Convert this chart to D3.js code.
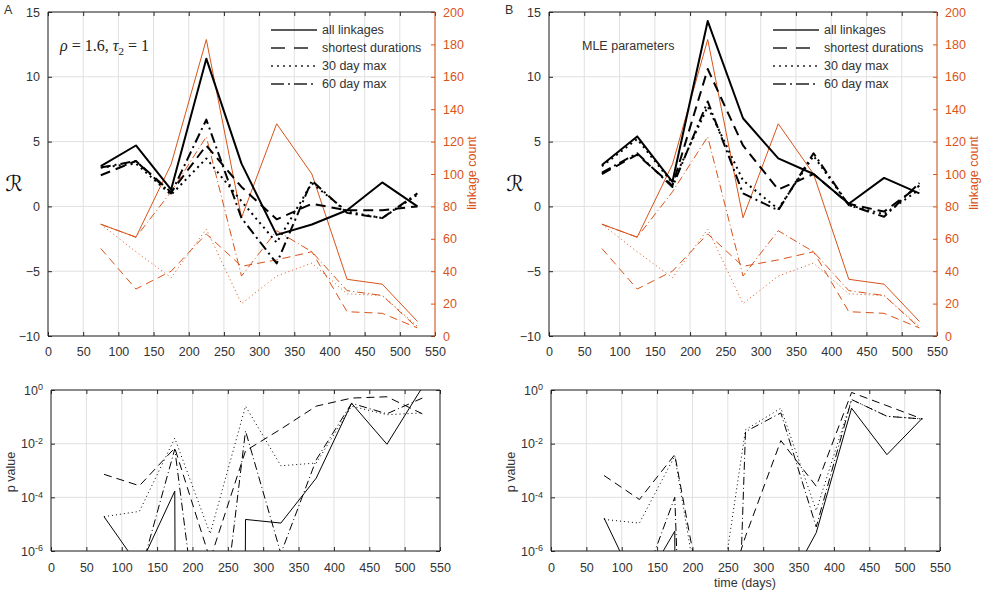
<!DOCTYPE html>
<html>
<head>
<meta charset="utf-8">
<script src="https://cdn.jsdelivr.net/npm/d3@7"></script>
<style>
  body { margin: 0; background: #fff; }
  svg { display: block; font-family: "Liberation Sans", Arial, sans-serif; }
  .tick text { font-family: "Liberation Sans", Arial, sans-serif; font-size: 12.5px; }
</style>
</head>
<body>
<svg id="chart" width="990" height="600"></svg>
<script>

// ---- data ----
const days = [75, 125, 175, 225, 275, 325, 375, 425, 475, 525];
const xTicks = [0, 50, 100, 150, 200, 250, 300, 350, 400, 450, 500, 550];
const rTicks = [-10, -5, 0, 5, 10, 15];
const countTicks = [0, 20, 40, 60, 80, 100, 120, 140, 160, 180, 200];
const pTicks = [1e-6, 1e-4, 1e-2, 1];
const seriesNames = ["all linkages", "shortest durations", "30 day max", "60 day max"];

// R, rho = 1.6, tau2 = 1 (panel A)
const rA_all   = [3.1, 4.7, 1.3, 11.4, 3.3, -2.2, -1.4, -0.3, 1.85, 0.0];
const rA_short = [2.4, 3.5, 1.1, 4.7, 1.5, -1.0, 0.2, -0.3, -0.3, 0.0];
const rA_30    = [3.0, 3.3, 0.9, 3.7, 0.4, -2.8, 1.8, -0.4, -0.9, 0.9];
const rA_60    = [3.0, 3.5, 1.0, 6.7, -0.9, -4.4, 2.0, -0.5, -0.9, 1.0];

// R, MLE parameters (panel B)
const rB_all   = [3.2, 5.4, 1.9, 14.3, 6.8, 3.7, 2.5, 0.2, 2.2, 1.0];
const rB_short = [2.5, 4.0, 1.6, 10.6, 4.7, 1.3, 2.5, 0.2, -0.4, 1.6];
const rB_30    = [3.1, 5.2, 1.8, 7.7, 2.0, -0.2, 3.9, 0.1, -0.6, 1.3];
const rB_60    = [2.6, 4.1, 1.5, 8.1, 1.0, -0.3, 4.1, 0.1, -0.8, 1.8];

// linkage counts (right axis, both panels)
const cnt_all   = [69, 61, 106, 183, 73, 131, 100, 35, 32, 9];
const cnt_short = [54, 29, 40, 63, 43, 47, 52, 15, 14, 5];
const cnt_30    = [69, 52, 36, 66, 20, 37, 45, 26, 25, 6];
const cnt_60    = [69, 61, 89, 123, 37, 65, 52, 28, 25, 5];

// p values (panel A)
const pA_all   = [1.9e-5, 2.5e-7, 1.7e-4, 1e-300, 1.5e-5, 1.1e-5, 5.2e-4, 0.32, 9.5e-3, 1.26];
const pA_short = [7.2e-4, 2.7e-4, 6.9e-3, 4.8e-7, 5.4e-3, 3.5e-2, 0.25, 0.50, 0.56, 0.13];
const pA_30    = [1.9e-5, 3.0e-5, 1.6e-2, 4.4e-6, 0.25, 1.5e-3, 1.9e-3, 0.25, 0.12, 0.14];
const pA_60    = [3e-8, 1.1e-7, 6.3e-3, 3e-13, 3.0e-2, 8e-7, 2.5e-3, 0.32, 0.13, 0.5];

// p values (panel B)
const pB_all   = [1.7e-5, 3e-8, 5.5e-6, 1e-300, 1e-50, 1.8e-8, 4.8e-6, 0.21, 3.9e-3, 0.089];
const pB_short = [6.5e-4, 8.3e-5, 3.9e-3, 3.2e-10, 3.5e-6, 1.3e-2, 2.6e-4, 0.81, 0.26, 0.083];
const pB_30    = [1.5e-5, 1.1e-5, 3.5e-3, 5e-11, 3.3e-2, 0.21, 3.2e-5, 0.44, 0.105, 0.083];
const pB_60    = [1e-8, 2.7e-8, 1e-4, 1e-40, 2.8e-2, 0.14, 7.9e-6, 0.44, 0.105, 0.083];

// ---- style ----
const ink = "#262626", orange = "#d95319", gridCol = "#e0e0e0", labelCol = "#333";
const dashThick = [null, "10,6", "2,4", "10,4,2,4"],
      dashThin  = [null, "8,5", "1,3", "8,3,1,3"],
      dashLegend = [null, "14,9", "2,4", "13,4,2,4"];

const svg = d3.select("#chart");

let styleAxis = (_, color) => {
  _.attr("color", color);
  _.select(".domain").remove();
  _.selectAll(".tick text").attr("fill", color === orange ? orange : labelCol);
};

function grid(g, x, y, xs, ys) {
  g.append("g").selectAll("line").data(xs).join("line")
    .attr("x1", d => x(d)).attr("x2", d => x(d))
    .attr("y1", y.range()[0]).attr("y2", y.range()[1])
    .attr("stroke", gridCol);
  g.append("g").selectAll("line").data(ys).join("line")
    .attr("x1", x.range()[0]).attr("x2", x.range()[1])
    .attr("y1", d => y(d)).attr("y2", d => y(d))
    .attr("stroke", gridCol);
}

function frame(g, x, y, rightColor) {
  let [l, r] = x.range(), [b, t] = y.range();
  g.append("path").attr("d", `M${r},${t}H${l}V${b}H${r}`)
    .attr("fill", "none").attr("stroke", ink);
  g.append("line").attr("x1", r).attr("x2", r).attr("y1", t).attr("y2", b)
    .attr("stroke", rightColor);
}

function drawTop(opt) {
  let g = svg.append("g"),
      x = d3.scaleLinear().domain([0, 550]).range([opt.left, opt.right]),
      y = d3.scaleLinear().domain([-10, 15]).range([336, 12]),
      yc = d3.scaleLinear().domain([0, 200]).range([336, 12]);

  grid(g, x, y, xTicks, rTicks);

  let lineC = d3.line().x((d, i) => x(days[i])).y(d => yc(d));
  g.append("g").selectAll("path")
    .data([cnt_all, cnt_short, cnt_30, cnt_60])
    .join("path")
    .attr("d", lineC)
    .attr("fill", "none")
    .attr("stroke", orange)
    .attr("stroke-width", 1)
    .attr("stroke-dasharray", (d, i) => dashThin[i]);

  let lineR = d3.line().x((d, i) => x(days[i])).y(d => y(d));
  g.append("g").selectAll("path")
    .data(opt.series)
    .join("path")
    .attr("d", lineR)
    .attr("fill", "none")
    .attr("stroke", "#000")
    .attr("stroke-width", 2)
    .attr("stroke-linejoin", "round")
    .attr("stroke-dasharray", (d, i) => dashThick[i]);

  g.append("g").attr("transform", `translate(0,${y(-10)})`)
    .call(d3.axisBottom(x).tickValues(xTicks).tickSize(-4).tickPadding(11))
    .call(_ => styleAxis(_, ink));
  g.append("g").attr("transform", `translate(0,${y(15)})`)
    .call(d3.axisTop(x).tickValues(xTicks).tickSize(-4).tickFormat(""))
    .call(_ => styleAxis(_, ink));
  g.append("g").attr("transform", `translate(${opt.left},0)`)
    .call(d3.axisLeft(y).tickValues(rTicks).tickSize(-4).tickPadding(8))
    .call(_ => styleAxis(_, ink));
  g.append("g").attr("transform", `translate(${opt.right},0)`)
    .call(d3.axisRight(yc).tickValues(countTicks).tickSize(-4).tickPadding(8))
    .call(_ => styleAxis(_, orange));

  frame(g, x, y, orange);

  // legend
  let lx = opt.right - 164;
  let leg = g.append("g").selectAll("g").data(seriesNames).join("g")
    .attr("transform", (d, i) => `translate(${lx},${30 + i * 18})`);
  leg.append("line")
    .attr("x1", 0).attr("x2", 46)
    .attr("stroke", "#222").attr("stroke-width", 1.6)
    .attr("stroke-dasharray", (d, i) => dashLegend[i]);
  leg.append("text")
    .attr("x", 51).attr("dy", "0.35em")
    .attr("font-size", 12.5).attr("fill", labelCol)
    .text(d => d);

  // panel letter, y label, right label
  g.append("text").attr("x", opt.left - 44).attr("y", 14)
    .attr("font-size", 12.5).attr("fill", labelCol).text(opt.letter);
  g.append("text").attr("x", opt.left - 34).attr("y", 183).attr("dy", "0.35em")
    .attr("text-anchor", "middle")
    .attr("font-family", "DejaVu Sans")
    .attr("font-size", 22).attr("fill", "#111").text("ℛ");
  g.append("text")
    .attr("transform", `translate(${opt.right + 37},173) rotate(-90)`)
    .attr("text-anchor", "middle").attr("dy", "0.35em")
    .attr("font-size", 12.5).attr("fill", orange).text("linkage count");

  return g;
}

function drawBottom(opt) {
  let g = svg.append("g"),
      x = d3.scaleLinear().domain([0, 550]).range([opt.left, opt.right]),
      y = d3.scaleLog().domain([1e-6, 1]).range([551, 390]);

  let clipId = "clip" + opt.letter;
  g.append("clipPath").attr("id", clipId)
    .append("rect")
    .attr("x", opt.left).attr("y", 390)
    .attr("width", opt.right - opt.left).attr("height", 161);

  grid(g, x, y, xTicks, pTicks);

  let lineP = d3.line().x((d, i) => x(days[i])).y(d => y(d));
  g.append("g").attr("clip-path", `url(#${clipId})`)
    .selectAll("path")
    .data(opt.series)
    .join("path")
    .attr("d", lineP)
    .attr("fill", "none")
    .attr("stroke", "#000")
    .attr("stroke-width", 1)
    .attr("stroke-dasharray", (d, i) => dashThin[i]);

  g.append("g").attr("transform", `translate(0,551)`)
    .call(d3.axisBottom(x).tickValues(xTicks).tickSize(-4).tickPadding(12))
    .call(_ => styleAxis(_, ink));
  g.append("g").attr("transform", `translate(0,390)`)
    .call(d3.axisTop(x).tickValues(xTicks).tickSize(-4).tickFormat(""))
    .call(_ => styleAxis(_, ink));
  let ya = g.append("g").attr("transform", `translate(${opt.left},0)`)
    .call(d3.axisLeft(y).tickValues(pTicks).tickSize(-4).tickPadding(8))
    .call(_ => styleAxis(_, ink));
  ya.selectAll(".tick text").text(null)
    .each(function(d) {
      let t = d3.select(this);
      t.append("tspan").text("10");
      t.append("tspan").attr("dy", "-0.45em").attr("font-size", "9px")
        .text(Math.round(Math.log10(d)));
    });
  g.append("g").attr("transform", `translate(${opt.right},0)`)
    .call(d3.axisRight(y).tickValues(pTicks).tickSize(-4).tickFormat(""))
    .call(_ => styleAxis(_, ink));

  frame(g, x, y, ink);

  g.append("text")
    .attr("transform", `translate(${opt.left - 40},472) rotate(-90)`)
    .attr("text-anchor", "middle").attr("dy", "0.35em")
    .attr("font-size", 12.5).attr("fill", labelCol).text("p value");

  return g;
}

drawTop({ left: 48, right: 435, letter: "A", series: [rA_all, rA_short, rA_30, rA_60] });
drawTop({ left: 549, right: 937, letter: "B", series: [rB_all, rB_short, rB_30, rB_60] });
drawBottom({ left: 51, right: 440, letter: "A", series: [pA_all, pA_short, pA_30, pA_60] });
drawBottom({ left: 551, right: 940, letter: "B", series: [pB_all, pB_short, pB_30, pB_60] });

// panel notes
let noteA = svg.append("text")
  .attr("x", 60).attr("y", 51)
  .attr("font-family", "Liberation Serif, DejaVu Serif, serif")
  .attr("font-size", 16).attr("fill", "#222");
noteA.append("tspan").attr("font-style", "italic").text("ρ");
noteA.append("tspan").text(" = 1.6, ");
noteA.append("tspan").attr("font-style", "italic").text("τ");
noteA.append("tspan").attr("dy", 4).attr("font-size", 11).text("2");
noteA.append("tspan").attr("dy", -4).text(" = 1");

svg.append("text")
  .attr("x", 582).attr("y", 50)
  .attr("font-size", 12.5).attr("fill", labelCol)
  .text("MLE parameters");

svg.append("text")
  .attr("x", 745).attr("y", 583).attr("dy", "0.35em")
  .attr("text-anchor", "middle")
  .attr("font-size", 12.5).attr("fill", labelCol)
  .text("time (days)");

</script>
</body>
</html>
